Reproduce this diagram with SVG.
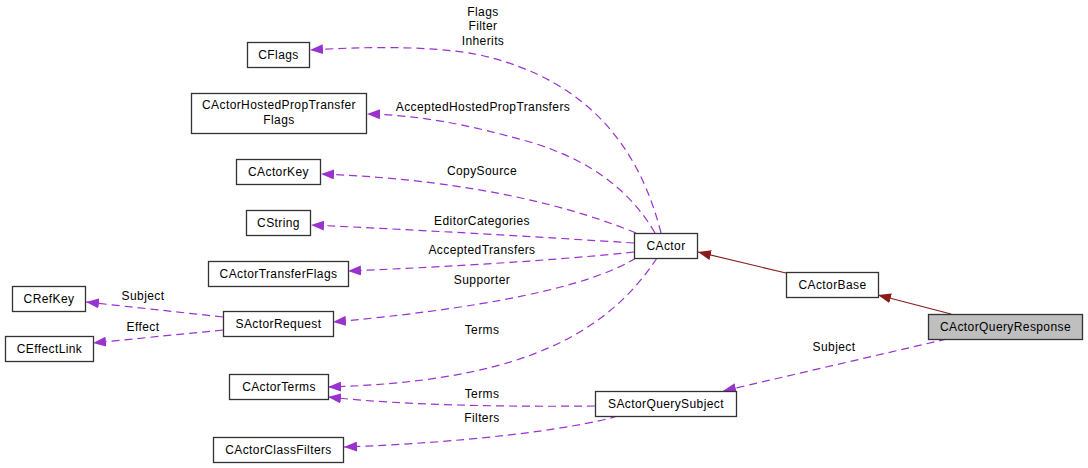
<svg xmlns="http://www.w3.org/2000/svg" width="1088" height="468" viewBox="0 0 1088 468">
<defs>
<style>
.node rect{fill:#ffffff;stroke:#333333;stroke-width:1.3}
.node.hl rect{fill:#bfbfbf}
text{font-family:"Liberation Sans",Arial,sans-serif;font-size:12px;letter-spacing:0.4px;fill:#000000}
.node text{text-anchor:middle}
.lbl{text-anchor:middle}
.dep{fill:none;stroke:#9a32cd;stroke-width:1.2;stroke-dasharray:8,5;marker-end:url(#pa)}
.inh{fill:none;stroke:#8b1a1a;stroke-width:1.2;marker-end:url(#ra)}
</style>
<marker id="pa" viewBox="0 0 13 10" refX="13" refY="5" markerWidth="13" markerHeight="10" markerUnits="userSpaceOnUse" orient="auto">
<path d="M0,0 L13,5 L0,10 z" fill="#9a32cd"/>
</marker>
<marker id="ra" viewBox="0 0 13 10" refX="13" refY="5" markerWidth="13" markerHeight="10" markerUnits="userSpaceOnUse" orient="auto">
<path d="M0,0 L13,5 L0,10 z" fill="#8b1a1a"/>
</marker>
</defs>
<rect width="1088" height="468" fill="#ffffff"/>
<g id="connectors">
<path class="inh" d="M786,273 L698,252"/>
<path class="inh" d="M951,314 L878,295"/>
<path class="dep" d="M947,339 L723,391"/>
<path class="dep" d="M661,233 C640,150 590,80 480,55 C430,45 360,47 310,50"/>
<path class="dep" d="M655,233 C630,190 590,160 530,142 C470,125 420,115 367,114"/>
<path class="dep" d="M636,233 C580,210 480,180 321,174"/>
<path class="dep" d="M634,243 C540,237 420,230 311,225"/>
<path class="dep" d="M634,252 C540,262 420,268 348,271"/>
<path class="dep" d="M636,258 C600,280 520,305 333,322"/>
<path class="dep" d="M657,258 C600,345 500,382 328,387"/>
<path class="dep" d="M595,406 C500,407 400,405 328,397"/>
<path class="dep" d="M618,416 C570,430 460,443 344,447"/>
<path class="dep" d="M223,317 L86,302"/>
<path class="dep" d="M223,330 L93,343"/>
<text class="lbl" x="483" y="16">Flags</text>
<text class="lbl" x="483" y="30">Filter</text>
<text class="lbl" x="483" y="45">Inherits</text>
<text class="lbl" x="483" y="111">AcceptedHostedPropTransfers</text>
<text class="lbl" x="482" y="175">CopySource</text>
<text class="lbl" x="482" y="225">EditorCategories</text>
<text class="lbl" x="482" y="254">AcceptedTransfers</text>
<text class="lbl" x="482" y="284">Supporter</text>
<text class="lbl" x="482" y="334">Terms</text>
<text class="lbl" x="482" y="398">Terms</text>
<text class="lbl" x="482" y="422">Filters</text>
<text class="lbl" x="834" y="351">Subject</text>
<text class="lbl" x="143" y="300">Subject</text>
<text class="lbl" x="143" y="331">Effect</text>
</g>
<g id="CActorQueryResponse" class="node hl"><rect x="928.5" y="314.5" width="154" height="25"/><text x="1005.5" y="331">CActorQueryResponse</text></g>
<g id="CActorBase" class="node"><rect x="786.5" y="272.5" width="92" height="25"/><text x="832.5" y="289">CActorBase</text></g>
<g id="CActor" class="node"><rect x="634.5" y="233.5" width="63" height="25"/><text x="666" y="250">CActor</text></g>
<g id="SActorQuerySubject" class="node"><rect x="595.5" y="391.5" width="141" height="25"/><text x="666" y="408">SActorQuerySubject</text></g>
<g id="CFlags" class="node"><rect x="247.5" y="42.5" width="62" height="25"/><text x="278.5" y="59">CFlags</text></g>
<g id="CActorHostedPropTransferFlags" class="node"><rect x="191.5" y="93.5" width="175" height="40"/><text x="279" y="109">CActorHostedPropTransfer</text><text x="279" y="124">Flags</text></g>
<g id="CActorKey" class="node"><rect x="236.5" y="159.5" width="84" height="25"/><text x="278.5" y="176">CActorKey</text></g>
<g id="CString" class="node"><rect x="246.5" y="210.5" width="64" height="25"/><text x="278.5" y="227">CString</text></g>
<g id="CActorTransferFlags" class="node"><rect x="208.5" y="261.5" width="140" height="25"/><text x="278.5" y="278">CActorTransferFlags</text></g>
<g id="SActorRequest" class="node"><rect x="223.5" y="311.5" width="110" height="25"/><text x="278.5" y="328">SActorRequest</text></g>
<g id="CActorTerms" class="node"><rect x="229.5" y="374.5" width="99" height="25"/><text x="279" y="391">CActorTerms</text></g>
<g id="CActorClassFilters" class="node"><rect x="213.5" y="437.5" width="130" height="25"/><text x="278.5" y="454">CActorClassFilters</text></g>
<g id="CRefKey" class="node"><rect x="12.5" y="286.5" width="73" height="25"/><text x="49" y="303">CRefKey</text></g>
<g id="CEffectLink" class="node"><rect x="5.5" y="336.5" width="88" height="25"/><text x="49.5" y="353">CEffectLink</text></g>
</svg>
